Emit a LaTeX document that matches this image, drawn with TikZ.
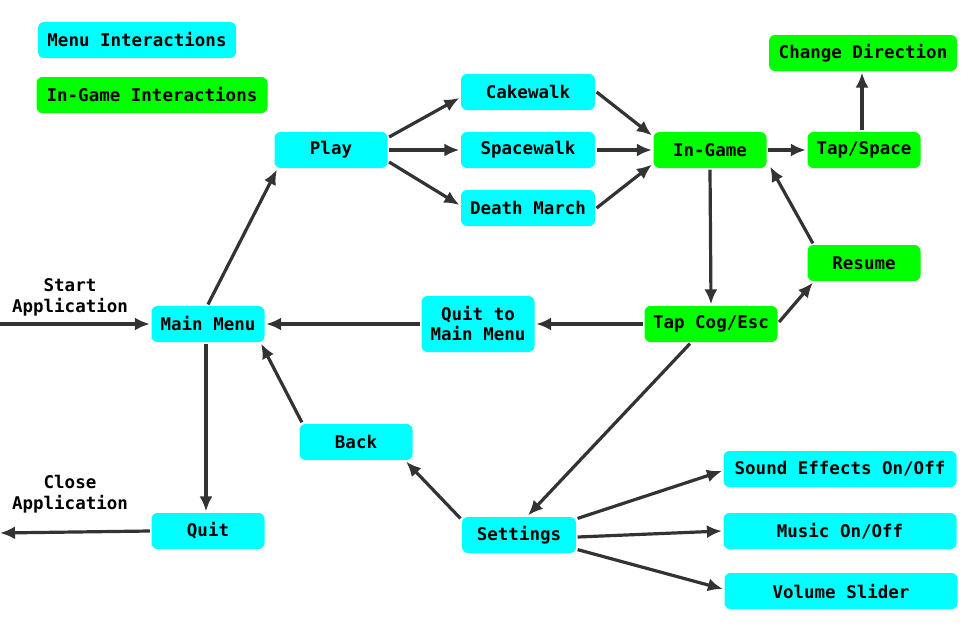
\documentclass[tikz,border=0pt]{standalone}
\usepackage{fontspec}
\setmonofont{DejaVu Sans Mono}
\usetikzlibrary{arrows.meta}
\definecolor{menucyan}{HTML}{00FFFF}
\definecolor{gamegreen}{HTML}{00FF00}
\definecolor{linkgray}{HTML}{333333}

\begin{document}
\begin{tikzpicture}[x=1pt, y=-1pt, line width=3.2pt, >={Latex[length=15pt, width=13pt]},
    every node/.style={font=\ttfamily\bfseries\fontsize{17.5}{21}\selectfont, align=center, inner sep=2pt},
    menu/.style={rounded corners=6pt, fill=menucyan, minimum width=113pt, minimum height=36pt},
    game/.style={menu, fill=gamegreen},
    link/.style={->, draw=linkgray}]
    \useasboundingbox (0, 0) rectangle (968, 632);

    % Legend
    \node[menu, minimum width=198pt] (legmenu) at (137, 40) {Menu Interactions};
    \node[game, minimum width=231pt] (leggame) at (152, 95) {In-Game Interactions};

    % Menus
    \node[menu] (mainmenu) at (208, 324) {Main Menu};
    \node[menu] (play) at (331, 150) {Play};
    \node[menu, minimum width=134pt] (cake) at (528, 92) {Cakewalk};
    \node[menu, minimum width=134pt] (space) at (528, 150) {Spacewalk};
    \node[menu, minimum width=134pt] (death) at (528, 208) {Death March};
    \node[menu, minimum height=56pt] (quitmain) at (478, 324) {Quit to\\[-1pt]Main Menu};
    \node[menu] (back) at (356, 442) {Back};
    \node[menu] (quit) at (208, 531) {Quit};
    \node[menu, minimum width=114pt] (settings) at (519, 535) {Settings};
    \node[menu, minimum width=233pt] (sound) at (840, 469) {Sound Effects On/Off};
    \node[menu, minimum width=233pt] (music) at (840, 531) {Music On/Off};
    \node[menu, minimum width=233pt] (volume) at (841, 591) {Volume Slider};

    % In-game
    \node[game] (ingame) at (710, 150) {In-Game};
    \node[game] (tap) at (864, 150) {Tap/Space};
    \node[game, minimum width=188pt] (change) at (863, 53) {Change Direction};
    \node[game] (resume) at (864, 263) {Resume};
    \node[game, minimum width=133pt] (cog) at (711, 324) {Tap Cog/Esc};

    % Application start and close
    \coordinate (startpt) at (0, 324);
    \coordinate (closept) at (0, 533);
    \node (startlbl) at (70, 297) {Start\\Application};
    \node (closelbl) at (70, 494) {Close\\Application};

    % Connections
    \draw[link] (startpt) -- (mainmenu.west);
    \draw[link] (mainmenu.north) -- ([xshift=4pt]play.south west);
    \draw[link] ([yshift=13pt]play.east) -- ([yshift=-6pt]cake.west);
    \draw[link] (play.east) -- (space.west);
    \draw[link] ([yshift=-12pt]play.east) -- ([yshift=3pt]death.west);
    \draw[link] (cake.east) -- ([yshift=-5pt]ingame.north west);
    \draw[link] (space.east) -- (ingame.west);
    \draw[link] (death.east) -- ([yshift=5pt]ingame.south west);
    \draw[link] (ingame.east) -- (tap.west);
    \draw[link] ([xshift=-2pt]tap.north) -- ([xshift=-1pt]change.south);
    \draw[link] (ingame.south) -- (cog.north);
    \draw[link] ([yshift=2pt]cog.east) -- ([xshift=7pt]resume.south west);
    \draw[link] ([xshift=7pt]resume.north west) -- ([xshift=2pt, yshift=3pt]ingame.south east);
    \draw[link] (cog.west) -- (quitmain.east);
    \draw[link] (quitmain.west) -- (mainmenu.east);
    \draw[link] ([xshift=-21pt]cog.south) -- ([xshift=9pt]settings.north);
    \draw[link] ([yshift=-3pt]settings.north west) -- ([xshift=-8pt]back.south east);
    \draw[link] ([xshift=4pt]back.north west) -- ([xshift=-5pt]mainmenu.south east);
    \draw[link] ([xshift=-2pt]mainmenu.south) -- ([xshift=-2pt]quit.north);
    \draw[link] (quit.west) -- (closept);
    \draw[link] ([yshift=-3pt]settings.north east) -- ([yshift=-2pt]sound.west);
    \draw[link] ([yshift=-2pt]settings.east) -- (music.west);
    \draw[link] ([yshift=5pt]settings.south east) -- ([yshift=2pt]volume.west);
\end{tikzpicture}
\end{document}
